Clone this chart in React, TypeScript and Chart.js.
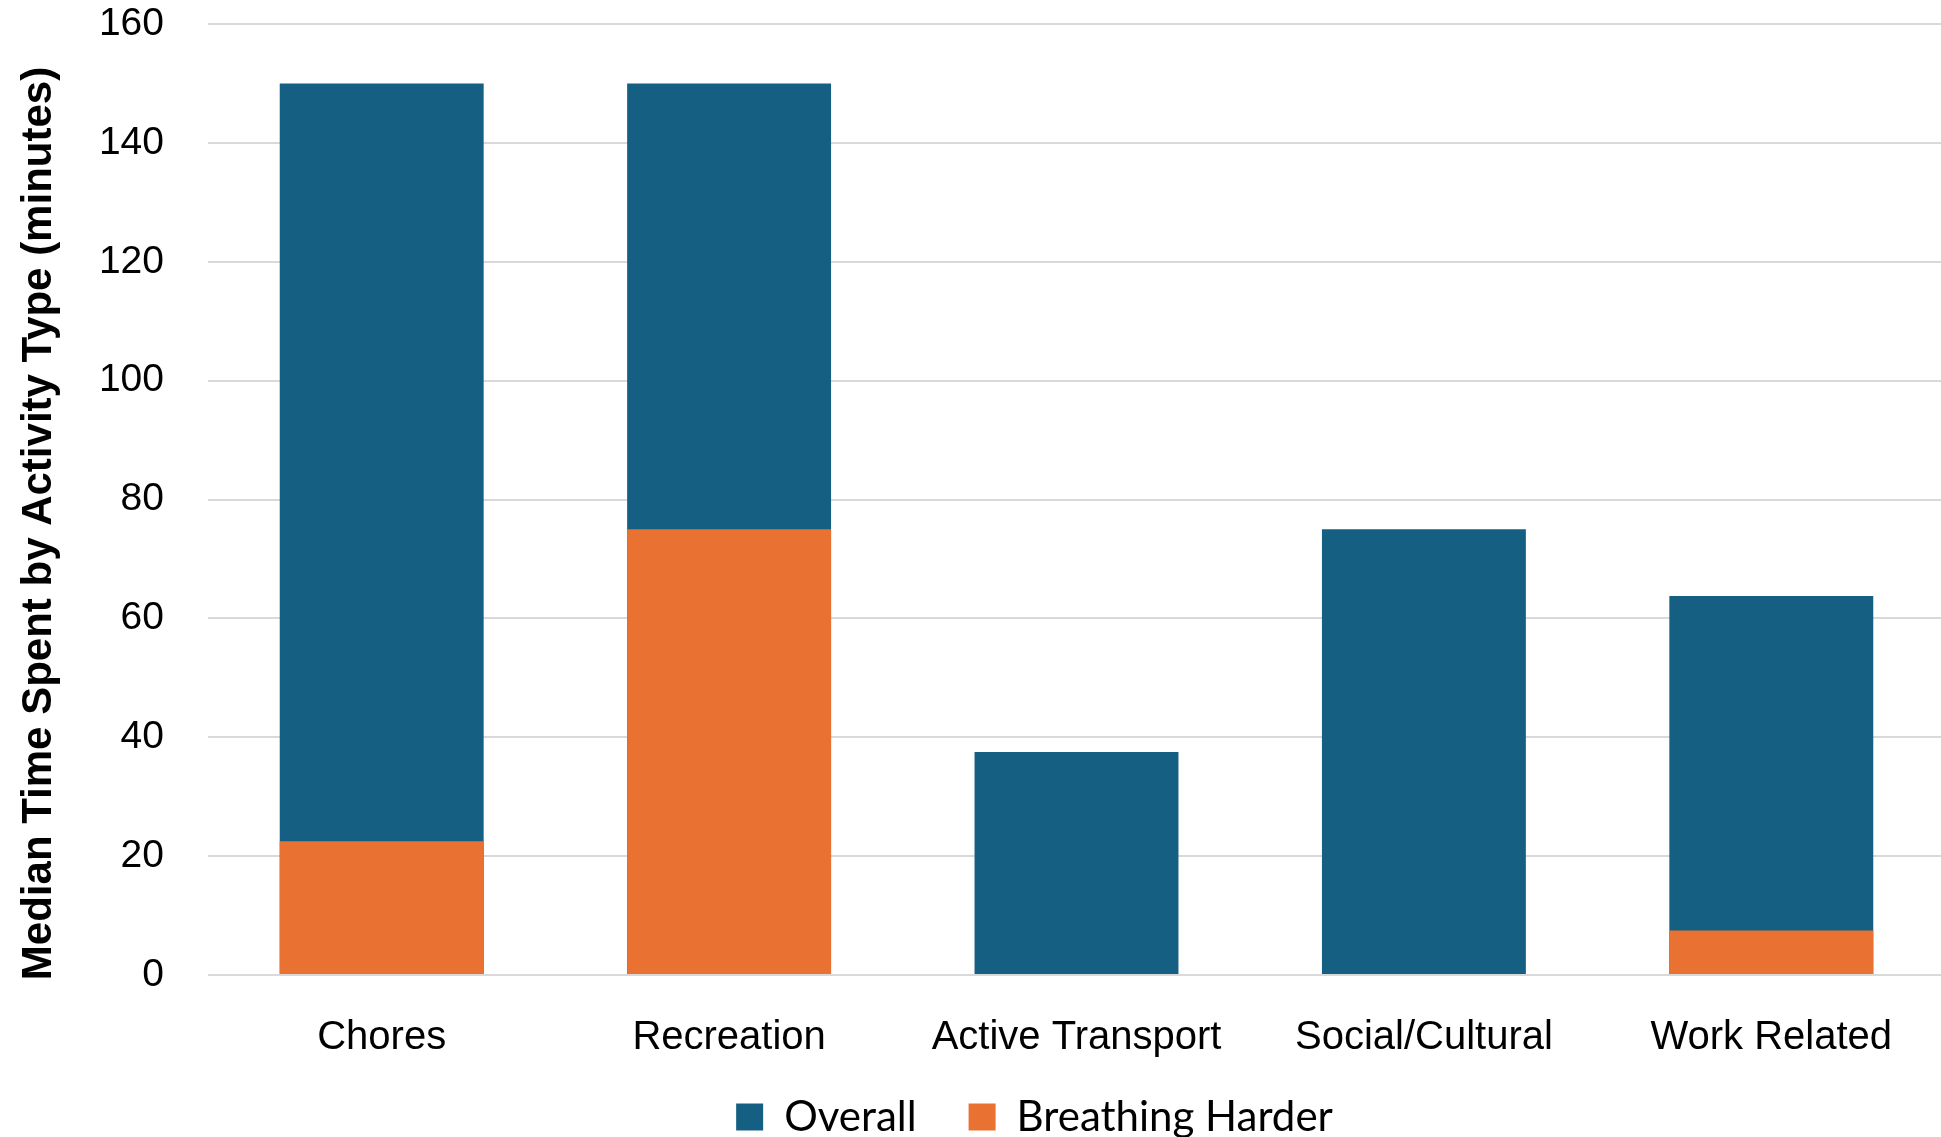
import { useEffect, useRef } from "react";
import { Chart, registerables } from "chart.js";

Chart.register(...registerables);

// Activity categories along the x axis
const categories = ["Chores", "Recreation", "Active Transport", "Social/Cultural", "Work Related"];

// Median minutes per activity type
const overallMinutes = [150, 150, 37.5, 75, 63.75];
const breathingHarderMinutes = [22.5, 75, 0, 0, 7.5];

// Value axis ticks
const yMin = 0;
const yMax = 160;
const yStep = 20;

const yAxisTitle = "Median Time Spent by Activity Type (minutes)";
const seriesNames = ["Overall", "Breathing Harder"];

const BLUE = "#156082";
const ORANGE = "#E97132";
const GRID = "#D9D9D9";

// The drawing surface is a little larger than the visible frame so the
// plot runs to the right edge and the legend sits near the bottom edge.
const CANVAS_W = 1945;
const CANVAS_H = 1169;
const Y_AXIS_W = 208;
const X_AXIS_H = 90;
const LEGEND_SHIFT_X = 62;
const LEGEND_SHIFT_Y = -21;

// Draws the rotated value-axis title left of the tick labels
const yTitlePlugin = {
  id: "yAxisTitle",
  afterDraw(chart: any) {
    const { ctx, chartArea } = chart;
    ctx.save();
    ctx.translate(39, (chartArea.top + chartArea.bottom) / 2 + 24);
    ctx.rotate(-Math.PI / 2);
    ctx.font = 'bold 42px "Liberation Sans", Arial, sans-serif';
    ctx.fillStyle = "#000000";
    ctx.textAlign = "center";
    ctx.textBaseline = "middle";
    ctx.fillText(yAxisTitle, 0, 0);
    ctx.restore();
  },
};

// Centres the legend under the plot area and tucks it up under the axis labels
const legendShiftPlugin = {
  id: "legendShift",
  afterLayout(chart: any) {
    const legend = chart.legend;
    if (legend) {
      legend.left += LEGEND_SHIFT_X;
      legend.right += LEGEND_SHIFT_X;
      legend.top += LEGEND_SHIFT_Y;
      legend.bottom += LEGEND_SHIFT_Y;
    }
  },
};

export default function App() {
  const canvasRef = useRef<HTMLCanvasElement | null>(null);

  useEffect(() => {
    const canvas = canvasRef.current;
    if (!canvas) return;
    const chart = new Chart(canvas, {
      type: "bar",
      data: {
        labels: categories,
        datasets: [
          {
            label: seriesNames[0],
            data: overallMinutes,
            backgroundColor: BLUE,
            borderWidth: 0,
            order: 1,
          },
          {
            label: seriesNames[1],
            data: breathingHarderMinutes,
            backgroundColor: ORANGE,
            borderWidth: 0,
            order: 0,
          },
        ],
      },
      plugins: [yTitlePlugin, legendShiftPlugin],
      options: {
        responsive: false,
        animation: false,
        devicePixelRatio: 1,
        layout: { padding: { left: 0, right: 0, top: 24, bottom: 0 } },
        datasets: {
          bar: {
            grouped: false,
            categoryPercentage: 1,
            barPercentage: 0.587,
          },
        },
        plugins: {
          legend: {
            position: "bottom",
            labels: {
              boxWidth: 27,
              boxHeight: 27,
              padding: 52,
              color: "#000000",
              font: { family: "Lato, sans-serif", size: 42 },
              sort: (a: any, b: any) => a.datasetIndex - b.datasetIndex,
            },
          },
          tooltip: { enabled: false },
          title: { display: false },
        },
        scales: {
          x: {
            grid: { display: false, drawTicks: false },
            border: { display: false },
            ticks: {
              color: "#000000",
              padding: 39,
              font: { family: '"Liberation Sans", Arial, sans-serif', size: 40, lineHeight: 1.2 },
              maxRotation: 0,
              autoSkip: false,
            },
            afterFit: (scale: any) => {
              scale.height = X_AXIS_H;
              scale.paddingLeft = 0;
              scale.paddingRight = 0;
            },
          },
          y: {
            min: yMin,
            max: yMax,
            grid: { color: GRID, lineWidth: 2, drawTicks: false },
            border: { display: false },
            ticks: {
              stepSize: yStep,
              color: "#000000",
              padding: 44,
              font: { family: '"Liberation Sans", Arial, sans-serif', size: 39, lineHeight: 1.2 },
            },
            afterFit: (scale: any) => {
              scale.width = Y_AXIS_W;
              scale.paddingTop = 0;
              scale.paddingBottom = 0;
            },
          },
        },
      },
    });
    return () => chart.destroy();
  }, []);

  return (
    <div
      style={{
        position: "absolute",
        left: 0,
        top: 0,
        width: 1941,
        height: 1137,
        overflow: "hidden",
        background: "#ffffff",
      }}
    >
      <canvas ref={canvasRef} width={CANVAS_W} height={CANVAS_H} style={{ display: "block" }} />
    </div>
  );
}
